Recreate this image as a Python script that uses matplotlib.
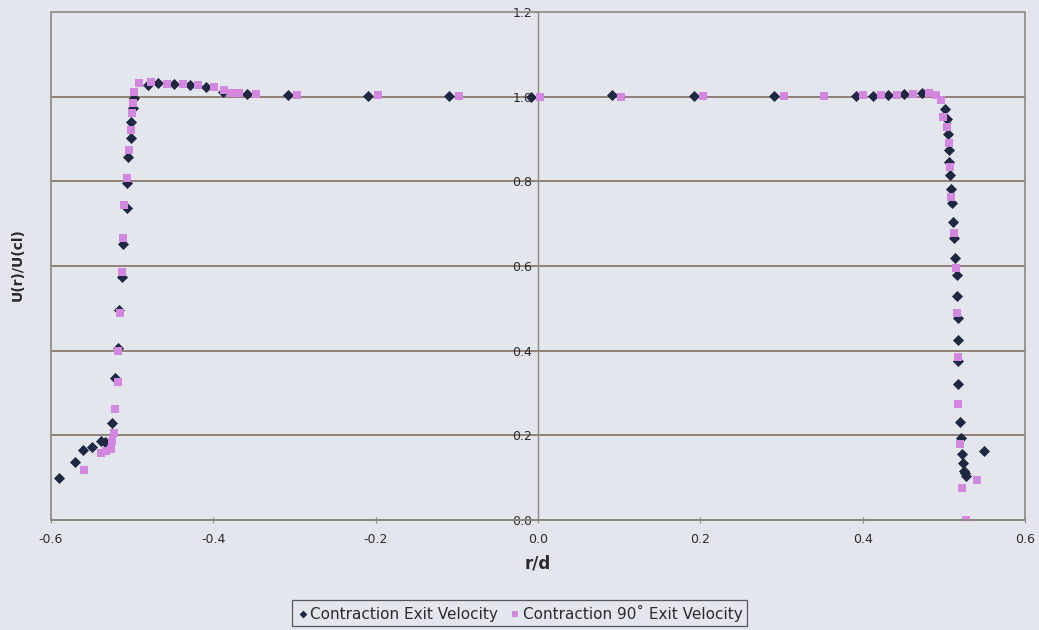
import matplotlib
matplotlib.use("Agg")
import matplotlib.pyplot as plt
from matplotlib.patches import Rectangle
import numpy as np

# Contraction Exit Velocity (navy diamonds)
exit_r = [-0.590, -0.571, -0.560, -0.549, -0.539, -0.534, -0.525, -0.521, -0.518, -0.516,
          -0.513, -0.511, -0.506, -0.506, -0.505, -0.502, -0.501, -0.499, -0.498, -0.480,
          -0.468, -0.448, -0.429, -0.409, -0.388, -0.358, -0.308, -0.209, -0.110, -0.009,
          0.091, 0.192, 0.291, 0.392, 0.413, 0.431, 0.451, 0.473, 0.501, 0.504,
          0.505, 0.506, 0.506, 0.507, 0.509, 0.510, 0.511, 0.512, 0.514, 0.516,
          0.516, 0.517, 0.517, 0.518, 0.518, 0.520, 0.521, 0.522, 0.523, 0.525,
          0.527, 0.526, 0.549]
exit_u = [0.099, 0.137, 0.166, 0.173, 0.187, 0.185, 0.230, 0.336, 0.407, 0.495,
          0.573, 0.653, 0.738, 0.795, 0.857, 0.902, 0.940, 0.973, 0.996, 1.027,
          1.032, 1.030, 1.027, 1.022, 1.010, 1.006, 1.003, 1.001, 1.001, 1.000,
          1.003, 1.001, 1.001, 1.001, 1.001, 1.003, 1.006, 1.008, 0.970, 0.947,
          0.911, 0.873, 0.845, 0.814, 0.783, 0.748, 0.703, 0.665, 0.618, 0.578,
          0.530, 0.478, 0.426, 0.376, 0.322, 0.232, 0.194, 0.156, 0.135, 0.116,
          0.104, 0.111, 0.163]

# Contraction 90 deg Exit Velocity (violet squares)
exit90_r = [-0.559, -0.539, -0.532, -0.526, -0.525, -0.522, -0.521, -0.518, -0.517, -0.515,
            -0.512, -0.511, -0.510, -0.506, -0.504, -0.502, -0.500, -0.499, -0.498, -0.491,
            -0.477, -0.457, -0.437, -0.419, -0.399, -0.387, -0.378, -0.368, -0.347, -0.297,
            -0.197, -0.097, 0.002, 0.102, 0.203, 0.303, 0.352, 0.401, 0.422, 0.442,
            0.462, 0.482, 0.490, 0.496, 0.499, 0.504, 0.506, 0.507, 0.509, 0.512,
            0.515, 0.516, 0.517, 0.518, 0.520, 0.522, 0.541, 0.527]
exit90_u = [0.118, 0.159, 0.163, 0.168, 0.187, 0.206, 0.263, 0.327, 0.400, 0.488,
            0.585, 0.667, 0.743, 0.809, 0.873, 0.921, 0.961, 0.985, 1.011, 1.032,
            1.034, 1.030, 1.030, 1.027, 1.022, 1.015, 1.008, 1.008, 1.006, 1.003,
            1.003, 1.001, 1.000, 1.000, 1.001, 1.001, 1.001, 1.003, 1.003, 1.003,
            1.006, 1.008, 1.003, 0.992, 0.951, 0.928, 0.890, 0.833, 0.762, 0.679,
            0.596, 0.490, 0.386, 0.275, 0.180, 0.076, 0.095, 0.000]

xticks = [-0.6, -0.4, -0.2, 0.0, 0.2, 0.4, 0.6]
yticks = [0.0, 0.2, 0.4, 0.6, 0.8, 1.0, 1.2]

bg = "#e3e7ed"
navy = "#1f2842"
violet = "#d287e0"
grid_c = "#8a786c"
frame_c = "#8d8882"
text_c = "#2a2a2a"

fig = plt.figure(figsize=(10.39, 6.30), dpi=100, facecolor=bg)
ax = fig.add_axes([51/1039, 1 - 520/630, 974/1039, 508/630])
ax.set_facecolor(bg)

ax.scatter(exit_r, exit_u, marker='D', s=32, color=navy, linewidths=0,
           label="Contraction Exit Velocity", zorder=3)
ax.scatter(exit90_r, exit90_u, marker='s', s=38, color=violet, linewidths=0,
           label="Contraction 90\u02da Exit Velocity", zorder=4)

ax.set_xlim(-0.6, 0.6)
ax.set_ylim(0, 1.2)
ax.set_xticks(xticks)
ax.set_yticks(yticks)
ax.xaxis.set_major_formatter(matplotlib.ticker.FormatStrFormatter('%.1f'))
ax.yaxis.set_major_formatter(matplotlib.ticker.FormatStrFormatter('%.1f'))

# horizontal gridlines
for yv in yticks[1:-1]:
    ax.axhline(yv, color=grid_c, lw=1.3, zorder=1)

# y axis sits at r/d = 0
ax.spines['left'].set_position(('data', 0))
ax.spines['left'].set_color(frame_c)
ax.spines['left'].set_linewidth(1.0)
for s in ['top', 'right']:
    ax.spines[s].set_visible(False)
ax.spines['bottom'].set_color(grid_c)
ax.spines['bottom'].set_linewidth(1.3)
ax.add_patch(Rectangle((0, 0), 1, 1, transform=ax.transAxes, fill=False,
                       ec=frame_c, lw=1.2, zorder=5, clip_on=False))

ax.tick_params(axis='y', direction='out', length=3, color=frame_c,
               labelsize=9, labelcolor=text_c, pad=1)
ax.tick_params(axis='x', direction='inout', length=5, color=frame_c,
               labelsize=9, labelcolor=text_c, pad=7)

ax.set_xlabel("r/d", fontsize=12, fontweight='bold', color=text_c, labelpad=6)
fig.text(18/1039, 1 - 265/630, "U(r)/U(cl)", rotation=90, fontsize=10,
         fontweight='bold', color=text_c, ha='center', va='center')

leg = fig.legend(loc='center', bbox_to_anchor=(0.5, 1 - 613/630), ncol=2,
                 frameon=True, fancybox=False, edgecolor='#333333',
                 facecolor=bg, fontsize=11, handletextpad=0.1,
                 columnspacing=0.7, borderpad=0.3, markerscale=0.7,
                 handlelength=0.8)
leg.get_frame().set_linewidth(0.9)
for t in leg.get_texts():
    t.set_color(text_c)

fig.savefig("out.png", dpi=100, facecolor=bg)
